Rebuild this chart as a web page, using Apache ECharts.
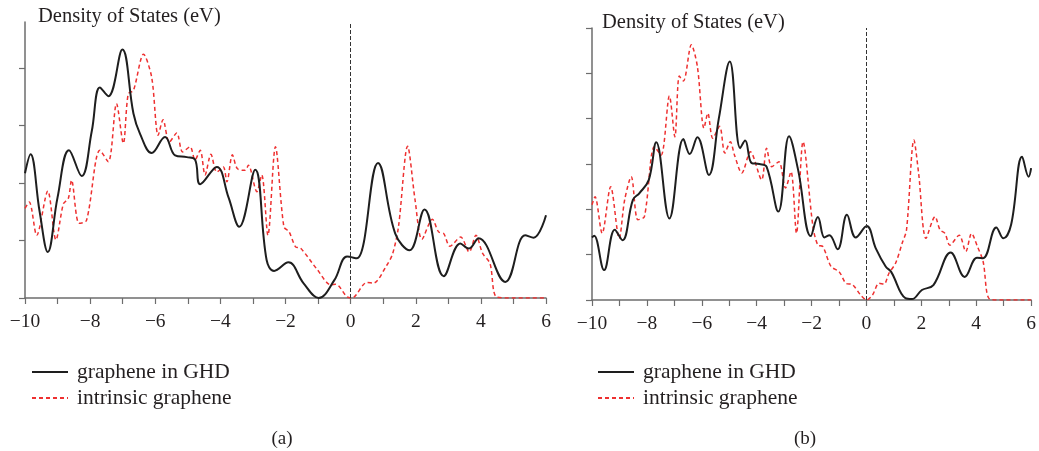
<!DOCTYPE html>
<html>
<head>
<meta charset="utf-8">
<script src="https://cdn.jsdelivr.net/npm/echarts@6/dist/echarts.min.js"></script>
<style>
  html, body { margin: 0; padding: 0; background: #fff; }
  #chart { width: 1039px; height: 451px; }
</style>
</head>
<body>
<div id="chart"></div>
<script>
// panel (a): energy (eV) and DOS values
const aGhdE = [-10, -9.83, -9.55, -9.30, -9.0, -8.65, -8.26, -7.95, -7.70, -7.44, -7.01, -6.67, -6.47, -6.11, -5.70, -5.39, -5.03, -4.78, -4.62, -4.11, -3.75, -3.42, -2.93, -2.58, -2.35, -1.91, -1.45, -0.98, -0.5, -0.11, 0.19, 0.84, 1.37, 1.81, 2.27, 2.86, 3.37, 3.63, 3.93, 4.75, 5.36, 5.62, 6.0]
const aGhdV = [2.17, 2.5, 1.5, 0.8, 1.75, 2.57, 2.12, 2.9, 3.66, 3.51, 4.32, 3.21, 2.86, 2.52, 2.80, 2.48, 2.45, 2.41, 1.98, 2.28, 1.75, 1.24, 2.23, 0.66, 0.47, 0.62, 0.26, 0.0, 0.31, 0.72, 0.69, 2.35, 1.12, 0.83, 1.54, 0.38, 0.95, 0.86, 1.04, 0.28, 1.09, 1.05, 1.44]
const aIntE = [-10, -9.87, -9.64, -9.30, -9.05, -8.82, -8.67, -8.57, -8.34, -8.11, -7.70, -7.44, -7.19, -6.98, -6.83, -6.67, -6.36, -6.11, -5.91, -5.76, -5.57, -5.34, -5.16, -4.93, -4.78, -4.62, -4.47, -4.29, -4.11, -3.91, -3.80, -3.63, -3.48, -3.24, -3.14, -2.88, -2.73, -2.54, -2.31, -2.05, -1.89, -1.69, -1.54, -1.02, -0.61, -0.46, -0.11, 0.04, 0.50, 0.70, 1.11, 1.29, 1.47, 1.75, 1.98, 2.19, 2.51, 2.70, 2.86, 3.05, 3.38, 3.64, 3.85, 4.05, 4.28, 4.48, 5.0, 6.0]
const aIntV = [1.56, 1.67, 1.09, 1.86, 1.01, 1.64, 1.73, 2.05, 1.30, 1.35, 2.57, 2.37, 3.38, 2.69, 3.55, 3.61, 4.24, 3.84, 2.83, 3.10, 2.71, 2.87, 2.54, 2.63, 2.40, 2.57, 2.14, 2.50, 2.19, 2.28, 2.02, 2.49, 2.25, 2.22, 2.31, 1.85, 2.14, 1.09, 2.63, 1.24, 1.15, 0.89, 0.87, 0.49, 0.23, 0.24, 0.02, 0, 0.27, 0.26, 0.57, 0.77, 1.24, 2.64, 1.70, 1.02, 1.37, 1.15, 1.12, 0.90, 1.06, 0.80, 1.09, 0.78, 0.60, 0.02, 0, 0]

// panel (b)
const bGhdE = [-10, -9.92, -9.56, -9.17, -8.89, -8.51, -8.27, -7.93, -7.66, -7.18, -6.67, -6.44, -6.16, -5.74, -5.38, -4.98, -4.60, -4.42, -4.18, -3.90, -3.64, -3.21, -2.82, -2.49, -2.03, -1.77, -1.53, -1.35, -1.05, -0.71, -0.39, 0.01, 0.34, 0.70, 0.90, 1.42, 1.66, 2.02, 2.44, 3.07, 3.58, 4.03, 4.25, 4.73, 4.99, 5.27, 5.67, 5.91, 6.0]
const bGhdV = [1.38, 1.42, 0.66, 1.55, 1.32, 2.21, 2.36, 2.65, 3.48, 1.80, 3.55, 3.22, 3.59, 2.76, 4.0, 5.26, 3.35, 3.52, 3.02, 3.00, 2.94, 1.95, 3.61, 2.87, 1.41, 1.83, 1.38, 1.43, 1.12, 1.88, 1.38, 1.63, 1.14, 0.74, 0.62, 0.04, 0.02, 0.22, 0.33, 1.05, 0.51, 0.93, 0.92, 1.60, 1.36, 1.66, 3.16, 2.72, 2.91]
const bIntE = [-10, -9.89, -9.63, -9.32, -9.01, -8.81, -8.57, -8.33, -8.09, -7.73, -7.48, -7.18, -6.98, -6.82, -6.67, -6.38, -6.16, -5.92, -5.78, -5.60, -5.35, -5.16, -4.96, -4.81, -4.54, -4.23, -3.82, -3.64, -3.45, -3.19, -2.95, -2.75, -2.55, -2.31, -1.95, -1.77, -1.59, -1.29, -0.99, -0.75, -0.51, -0.21, 0.01, 0.22, 0.46, 0.64, 0.82, 1.06, 1.30, 1.46, 1.73, 1.90, 2.17, 2.50, 2.68, 2.86, 3.04, 3.38, 3.62, 3.83, 4.03, 4.25, 4.49, 5.0, 6.0]
const bIntV = [2.10, 2.28, 1.47, 2.50, 1.36, 2.21, 2.72, 1.77, 1.84, 3.38, 3.20, 4.50, 3.60, 4.94, 4.83, 5.63, 5.15, 3.79, 4.12, 3.57, 3.83, 3.24, 3.49, 3.20, 2.80, 3.27, 2.65, 3.35, 2.94, 3.05, 2.47, 2.83, 1.47, 3.49, 1.62, 1.21, 1.18, 0.74, 0.62, 0.37, 0.34, 0.11, 0.0, 0.11, 0.37, 0.35, 0.59, 0.81, 1.25, 1.55, 3.53, 2.80, 1.36, 1.84, 1.55, 1.47, 1.21, 1.43, 1.07, 1.47, 1.20, 0.85, 0.02, 0, 0]

const seriesNames = ['graphene in GHD', 'intrinsic graphene']
const xTicks = [-10, -8, -6, -4, -2, 0, 2, 4, 6]
const aYTicks = [0, 1, 2, 3, 4]
const bYTicks = [0, 1, 2, 3, 4, 5, 6]

const FONT = 'Liberation Serif'
const TEXT = '#231f20'
const AXIS = '#6d6d6d'

const zip = (xs, ys) => xs.map((x, i) => [x, ys[i]])

const fmtTick = (v) => {
  if (!xTicks.includes(v)) return ''
  return v < 0 ? '\u2212' + Math.abs(v) : String(v)
}

const makeX = (gridIndex) => ({
  type: 'value',
  gridIndex,
  min: -10,
  max: 6,
  interval: 1,
  axisLine: { lineStyle: { color: AXIS, width: 1.5 } },
  axisTick: { length: 6, lineStyle: { color: AXIS, width: 1.2 } },
  axisLabel: { formatter: fmtTick, color: TEXT, fontFamily: FONT, fontSize: 19.5, margin: 14 },
  splitLine: { show: false },
})

const makeY = (gridIndex, max, ticks) => ({
  type: 'value',
  gridIndex,
  min: 0,
  max,
  interval: 1,
  axisLine: { show: true, onZero: false, lineStyle: { color: AXIS, width: 1.5 } },
  axisTick: { show: true, length: 6, customValues: ticks, lineStyle: { color: AXIS, width: 1.2 } },
  axisLabel: { show: false },
  splitLine: { show: false },
})

const zeroLine = {
  silent: true,
  symbol: 'none',
  label: { show: false },
  lineStyle: { type: 'dashed', color: '#333', width: 1 },
  data: [{ xAxis: 0 }],
}

const ghdLine = (idx, data) => ({
  name: seriesNames[0],
  type: 'line',
  xAxisIndex: idx,
  yAxisIndex: idx,
  data,
  smooth: 0.4,
  symbol: 'none',
  lineStyle: { color: '#1e1e1e', width: 2 },
  itemStyle: { color: '#1e1e1e' },
  markLine: zeroLine,
  z: 3,
})

const intLine = (idx, data) => ({
  name: seriesNames[1],
  type: 'line',
  xAxisIndex: idx,
  yAxisIndex: idx,
  data,
  smooth: 0.3,
  symbol: 'none',
  lineStyle: { color: '#ee3030', width: 1.5, type: [4, 3] },
  itemStyle: { color: '#ee3030' },
  z: 2,
})

const makeLegend = (left) => ({
  left,
  top: 356,
  orient: 'vertical',
  itemWidth: 36,
  itemHeight: 14,
  itemGap: 4,
  data: seriesNames,
  itemStyle: { opacity: 0 },
  textStyle: { color: TEXT, fontFamily: FONT, fontSize: 21.5, padding: [0, 0, 0, 4] },
})

const titleStyle = { color: TEXT, fontFamily: FONT, fontSize: 20.5, fontWeight: 'normal' }

const chart = echarts.init(document.getElementById('chart'))
chart.setOption({
  animation: false,
  backgroundColor: '#fff',
  title: [
    { text: 'Density of States (eV)', left: 33, top: 1, textStyle: titleStyle },
    { text: 'Density of States (eV)', left: 597, top: 7, textStyle: titleStyle },
    { text: '(a)', left: 277, top: 425, textAlign: 'center', textStyle: { ...titleStyle, fontSize: 19 } },
    { text: '(b)', left: 800, top: 425, textAlign: 'center', textStyle: { ...titleStyle, fontSize: 19 } },
  ],
  legend: [makeLegend(26), makeLegend(592)],
  grid: [
    { left: 25, top: 22, width: 521, height: 276 },
    { left: 592, top: 28, width: 444, height: 272 },
  ],
  xAxis: [makeX(0), makeX(1)],
  yAxis: [makeY(0, 4.8, aYTicks), makeY(1, 6, bYTicks)],
  series: [
    ghdLine(0, zip(aGhdE, aGhdV)),
    intLine(0, zip(aIntE, aIntV)),
    ghdLine(1, zip(bGhdE, bGhdV)),
    intLine(1, zip(bIntE, bIntV)),
  ],
})
</script>
</body>
</html>
